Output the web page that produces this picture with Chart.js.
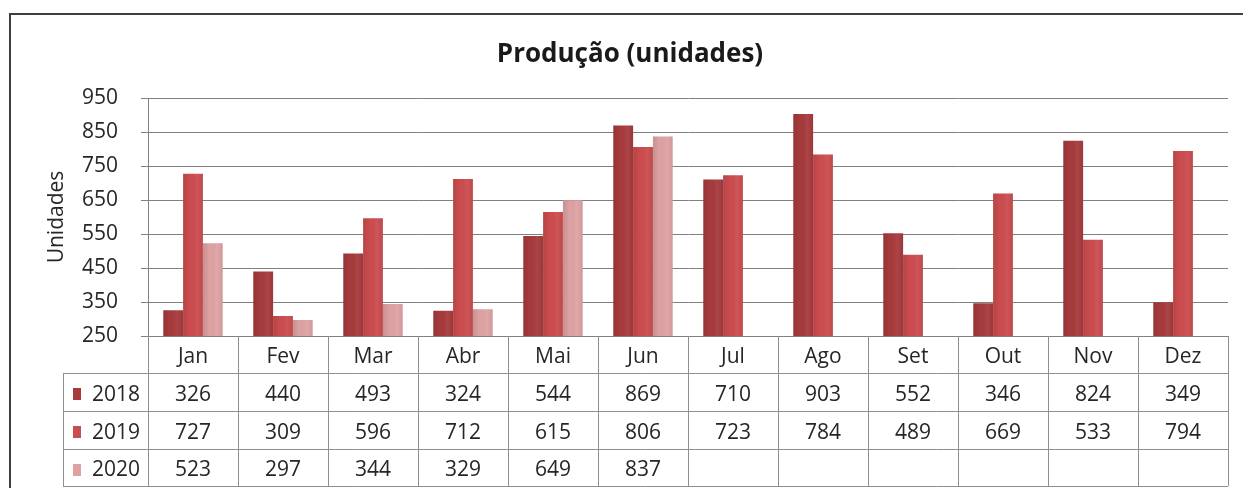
<!DOCTYPE html>
<html>
<head>
<meta charset="utf-8">
<script src="https://cdn.jsdelivr.net/npm/chart.js@4.4.1/dist/chart.umd.min.js"></script>
<style>
  html, body { margin: 0; padding: 0; background: #ffffff; }
  #wrap { position: relative; width: 1243px; height: 488px; }
  .fl { font-family: 'Open Sans'; position: absolute; visibility: hidden; }
</style>
</head>
<body>
<div id="wrap"><canvas id="c" width="1243" height="488"></canvas></div>
<span class="fl">a</span><span class="fl" style="font-weight:bold">a</span>
<script>
// ---- data ----
const months = ['Jan','Fev','Mar','Abr','Mai','Jun','Jul','Ago','Set','Out','Nov','Dez'];
const seriesNames = ['2018','2019','2020'];
const v2018 = [326, 440, 493, 324, 544, 869, 710, 903, 552, 346, 824, 349];
const v2019 = [727, 309, 596, 712, 615, 806, 723, 784, 489, 669, 533, 794];
const v2020 = [523, 297, 344, 329, 649, 837, null, null, null, null, null, null];
const yTicks = [250, 350, 450, 550, 650, 750, 850, 950];
const chartTitle = 'Produção (unidades)';
const yTitle = 'Unidades';

// ---- styles ----
const FONT = "'Open Sans', 'DejaVu Sans', sans-serif";
const colors = ['#A63A3C', '#CB4C4E', '#DEA2A3'];
const textColor = '#262626';
const gridColor = '#808080';
const tableLine = '#8f8f8f';
const rowBounds = [336, 373, 411, 449, 486];
const legendLeft = 63;

const shadePlugin = {
  id: 'barShade',
  afterDatasetsDraw(chart) {
    const ctx = chart.ctx;
    const area = chart.chartArea;
    ctx.save();
    ctx.beginPath();
    ctx.rect(area.left, area.top, area.right - area.left, area.bottom - area.top);
    ctx.clip();
    chart.data.datasets.forEach((ds, di) => {
      const meta = chart.getDatasetMeta(di);
      meta.data.forEach((bar, i) => {
        if (ds.data[i] === null) return;
        const p = bar.getProps(['x', 'y', 'base', 'width'], true);
        const l = p.x - p.width / 2, r = p.x + p.width / 2;
        const g = ctx.createLinearGradient(l, 0, r, 0);
        g.addColorStop(0, 'rgba(0,0,0,0.10)');
        g.addColorStop(0.35, 'rgba(0,0,0,0)');
        g.addColorStop(0.7, 'rgba(255,255,255,0.06)');
        g.addColorStop(1, 'rgba(0,0,0,0.06)');
        ctx.fillStyle = g;
        const top = Math.min(p.y, p.base), bot = Math.min(Math.max(p.y, p.base), area.bottom);
        ctx.fillRect(l, top, p.width, bot - top);
      });
    });
    ctx.restore();
  }
};

const tablePlugin = {
  id: 'dataTable',
  afterDraw(chart) {
    const ctx = chart.ctx;
    const x = chart.scales.x;
    const area = chart.chartArea;
    const half = (x.getPixelForValue(1) - x.getPixelForValue(0)) / 2;
    ctx.save();
    // outer frame
    ctx.strokeStyle = '#404040';
    ctx.lineWidth = 2;
    ctx.beginPath();
    ctx.moveTo(1243, 14); ctx.lineTo(10, 14); ctx.lineTo(10, 488);
    ctx.stroke();

    ctx.strokeStyle = tableLine;
    ctx.lineWidth = 1;
    ctx.beginPath();
    for (let r = 1; r < rowBounds.length; r++) {
      ctx.moveTo(legendLeft, rowBounds[r] + 0.5);
      ctx.lineTo(area.right, rowBounds[r] + 0.5);
    }
    for (let i = 0; i <= months.length; i++) {
      const px = Math.round(x.getPixelForValue(i) - half) + 0.5;
      ctx.moveTo(px, rowBounds[0]);
      ctx.lineTo(px, rowBounds[rowBounds.length - 1]);
    }
    ctx.moveTo(legendLeft + 0.5, rowBounds[1]);
    ctx.lineTo(legendLeft + 0.5, rowBounds[rowBounds.length - 1]);
    ctx.stroke();

    ctx.fillStyle = textColor;
    ctx.font = '21px ' + FONT;
    ctx.textAlign = 'center';
    ctx.textBaseline = 'middle';
    const rowMid = r => (rowBounds[r] + rowBounds[r + 1]) / 2 + 3;
    months.forEach((m, i) => ctx.fillText(m, x.getPixelForValue(i), rowMid(0)));
    const rows = [v2018, v2019, v2020];
    rows.forEach((arr, r) => {
      ctx.fillStyle = textColor;
      ctx.textAlign = 'center';
      arr.forEach((v, i) => {
        if (v !== null) ctx.fillText(String(v), x.getPixelForValue(i), rowMid(r + 1));
      });
      const my = rowMid(r + 1) - 1;
      ctx.fillStyle = colors[r];
      ctx.fillRect(73, Math.round(my - 6), 8, 12);
      ctx.fillStyle = textColor;
      ctx.textAlign = 'left';
      ctx.fillText(seriesNames[r], 92, rowMid(r + 1));
    });
    ctx.restore();
  }
};

function build() {
  new Chart(document.getElementById('c'), {
    type: 'bar',
    data: {
      labels: months,
      datasets: [
        { label: seriesNames[0], data: v2018, backgroundColor: colors[0] },
        { label: seriesNames[1], data: v2019, backgroundColor: colors[1] },
        { label: seriesNames[2], data: v2020, backgroundColor: colors[2] }
      ]
    },
    options: {
      responsive: false,
      animation: false,
      devicePixelRatio: 1,
      layout: { padding: { left: 32, right: 15, top: 0, bottom: 152 } },
      datasets: { bar: { categoryPercentage: 0.66, barPercentage: 1.0 } },
      plugins: {
        legend: { display: false },
        tooltip: { enabled: false },
        title: {
          display: true,
          text: chartTitle,
          color: '#1a1a1a',
          font: { family: FONT, size: 26, weight: 'bold', lineHeight: 1.2 },
          padding: { top: 39, bottom: 27.8 }
        }
      },
      scales: {
        x: { display: false },
        y: {
          min: 250, max: 950,
          afterFit(scale) { scale.width = 116; },
          afterBuildTicks(scale) { scale.ticks = yTicks.map(v => ({ value: v })); },
          ticks: { color: textColor, font: { family: FONT, size: 21 }, padding: 23 },
          grid: { color: gridColor, lineWidth: 1, tickLength: 7, drawTicks: true },
          border: { color: gridColor, width: 1 },
          title: {
            display: true, text: yTitle, color: textColor,
            font: { family: FONT, size: 21, lineHeight: 1.2 },
            padding: { top: 12.4, bottom: 0 }
          }
        }
      }
    },
    plugins: [shadePlugin, tablePlugin]
  });
}
if (document.fonts && document.fonts.load) {
  Promise.all([
    document.fonts.load("21px 'Open Sans'"),
    document.fonts.load("bold 26px 'Open Sans'")
  ]).then(build, build);
} else { build(); }
</script>
</body>
</html>
